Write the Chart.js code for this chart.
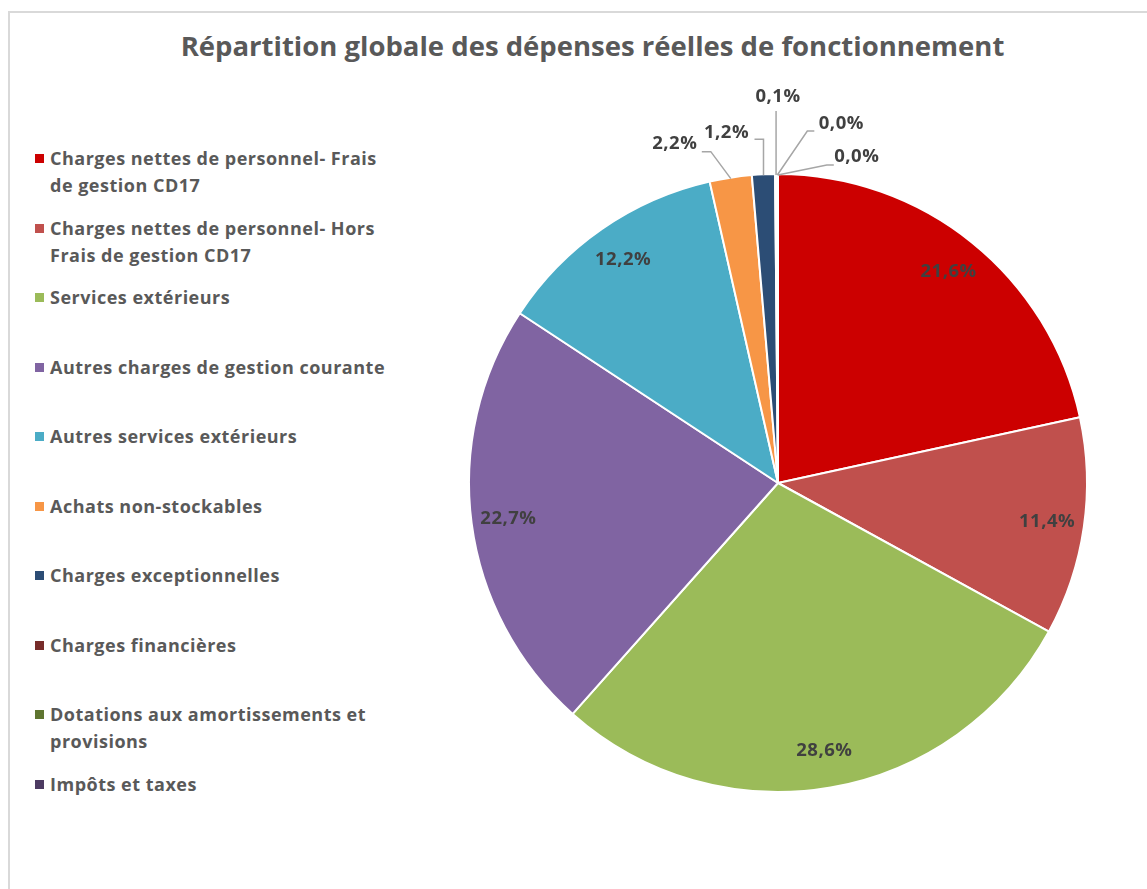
<!DOCTYPE html>
<html>
<head>
<meta charset="utf-8">
<script src="https://cdn.jsdelivr.net/npm/chart.js@4"></script>
<style>
  body { margin: 0; background: #fff; }
  #wrap { position: relative; width: 1147px; height: 889px; overflow: hidden; }
  #frame { position: absolute; left: 8px; top: 11px; width: 1200px; height: 1000px; border: 2px solid #d9d9d9; box-sizing: border-box; }
  #titre { position: absolute; left: 0; top: 27px; width: 1185px; text-align: center; font: bold 27.5px "Open Sans", sans-serif; color: #595959; letter-spacing: 0px; }
  #legende { position: absolute; left: 0; top: 0; }
  .item { position: absolute; left: 35px; width: 380px; font: bold 18px "Open Sans", sans-serif; color: #595959; line-height: 27px; letter-spacing: 0.5px; }
  .item span.carre { position: absolute; left: 0; top: 9px; width: 9px; height: 9px; }
  .item div { margin-left: 15px; }
  canvas { position: absolute; left: 0; top: 0; }
</style>
</head>
<body>
<div id="wrap">
  <div id="frame"></div>
  <div id="titre">Répartition globale des dépenses réelles de fonctionnement</div>
  <div id="legende"></div>
  <canvas id="camembert" width="1147" height="889"></canvas>
</div>
<script>
// libellés des postes de dépenses
var categories = [
  "Charges nettes de personnel- Frais de gestion CD17",
  "Charges nettes de personnel- Hors Frais de gestion CD17",
  "Services extérieurs",
  "Autres charges de gestion courante",
  "Autres services extérieurs",
  "Achats non-stockables",
  "Charges exceptionnelles",
  "Charges financières",
  "Dotations aux amortissements et provisions",
  "Impôts et taxes"
];
// lignes de la légende (retour à la ligne comme dans l'original)
var legendLines = [
  ["Charges nettes de personnel- Frais", "de gestion CD17"],
  ["Charges nettes de personnel- Hors", "Frais de gestion CD17"],
  ["Services extérieurs"],
  ["Autres charges de gestion courante"],
  ["Autres services extérieurs"],
  ["Achats non-stockables"],
  ["Charges exceptionnelles"],
  ["Charges financières"],
  ["Dotations aux amortissements et", "provisions"],
  ["Impôts et taxes"]
];
// parts en %
var valeurs = [21.6, 11.4, 28.6, 22.7, 12.2, 2.2, 1.2, 0.1, 0.03, 0.02];
var couleurs = ["#cc0000", "#c0504d", "#9bbb59", "#8064a2", "#4bacc6",
                "#f79646", "#2c4d75", "#772c2a", "#5f7530", "#4d3b62"];

// étiquettes extérieures : coude et position du texte par rapport au point d'ancrage
var etiquettesExt = {
  5: { coude: [-20, -27], fin: [-29, -27], texte: [-56, -35] },
  6: { coude: [0, -36], fin: [-9, -36], texte: [-37, -43] },
  7: { coude: [0, -64], fin: [0, -64], texte: [2, -78] },
  8: { coude: [30, -44], fin: [37, -44], texte: [64, -51] },
  9: { coude: [49, -10], fin: [56, -10], texte: [79, -18] }
};

// légende HTML
var legende = document.getElementById("legende");
for (var i = 0; i < legendLines.length; i++) {
  var d = document.createElement("div");
  d.className = "item";
  d.style.top = (145 + i * 69.5) + "px";
  d.innerHTML = '<span class="carre" style="background:' + couleurs[i] + '"></span><div>' + legendLines[i].join("<br>") + "</div>";
  legende.appendChild(d);
}

function formatPct(v) {
  return v.toFixed(1).replace(".", ",") + "%";
}

var pluginEtiquettes = {
  id: "etiquettes",
  afterDatasetsDraw: function (chart) {
    var ctx = chart.ctx;
    var arcs = chart.getDatasetMeta(0).data;
    ctx.save();
    ctx.font = "bold 18.5px 'Open Sans', sans-serif";
    ctx.letterSpacing = "0.5px";
    ctx.textAlign = "center";
    ctx.textBaseline = "middle";
    for (var i = 0; i < arcs.length; i++) {
      var a = arcs[i].getProps(["x", "y", "startAngle", "endAngle", "outerRadius"], true);
      var mid = (a.startAngle + a.endAngle) / 2;
      var txt = formatPct(valeurs[i]);
      var ext = etiquettesExt[i];
      if (!ext) {
        var r = a.outerRadius * 0.88;
        ctx.fillStyle = "#404040";
        ctx.fillText(txt, a.x + r * Math.cos(mid), a.y + r * Math.sin(mid));
      } else {
        var ax = a.x + (a.outerRadius - 1) * Math.cos(mid);
        var ay = a.y + (a.outerRadius - 1) * Math.sin(mid);
        ctx.strokeStyle = "#a6a6a6";
        ctx.lineWidth = 1.5;
        ctx.beginPath();
        ctx.moveTo(ax, ay);
        ctx.lineTo(ax + ext.coude[0], ay + ext.coude[1]);
        ctx.lineTo(ax + ext.fin[0], ay + ext.fin[1]);
        ctx.stroke();
        ctx.fillStyle = "#404040";
        ctx.fillText(txt, ax + ext.texte[0], ay + ext.texte[1]);
      }
    }
    ctx.restore();
  }
};

var ctx = document.getElementById("camembert").getContext("2d");
var myPie = new Chart(ctx, {
  type: "pie",
  data: {
    labels: categories,
    datasets: [{
      data: valeurs,
      backgroundColor: couleurs,
      borderColor: "#ffffff",
      borderWidth: 2,
      hoverOffset: 0
    }]
  },
  options: {
    responsive: false,
    animation: false,
    layout: { padding: { left: 468, right: 59, top: 173, bottom: 96 } },
    plugins: {
      legend: { display: false },
      tooltip: { enabled: false }
    }
  },
  plugins: [pluginEtiquettes]
});
</script>
</body>
</html>
